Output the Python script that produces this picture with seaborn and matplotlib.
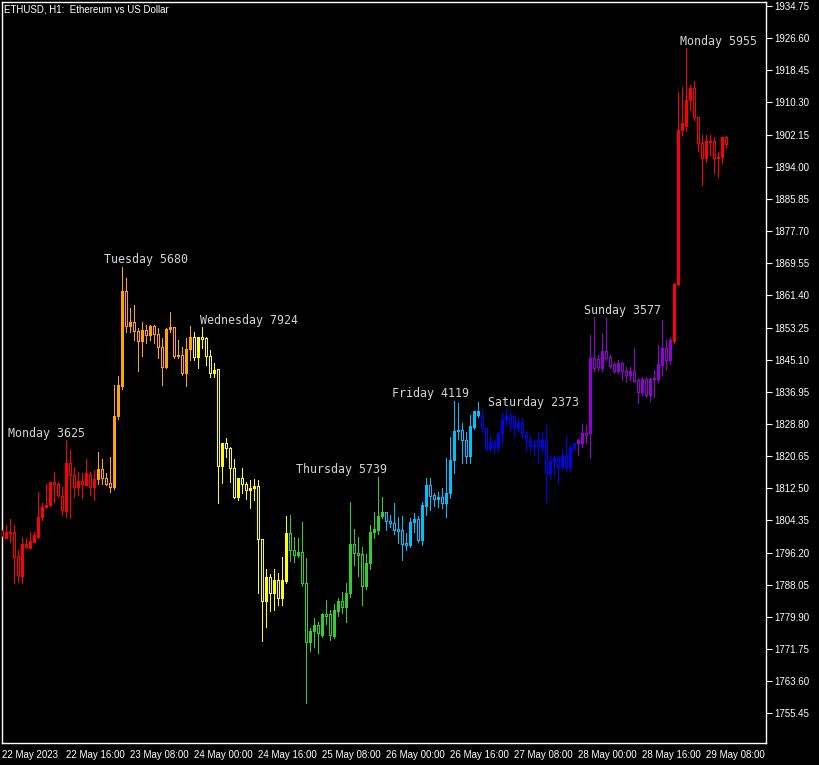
import matplotlib
matplotlib.use("Agg")
import matplotlib.pyplot as plt
import numpy as np
import seaborn as sns

# Hourly ETHUSD candles, 22 May 2023 00:00 onwards (one value per hour)
opens = [
    1801.8, 1799.8, 1801.3, 1801.3, 1795.3, 1790.3, 1798.4, 1797.3, 1799.0, 1800.2,
    1805.3, 1807.7, 1808.3, 1814.2, 1813.7, 1810.6, 1806.8, 1818.8, 1815.9, 1812.9,
    1814.4, 1813.3, 1816.1, 1812.7, 1814.9, 1817.4, 1815.0, 1813.9, 1812.7, 1830.7,
    1838.4, 1862.5, 1853.7, 1854.7, 1852.4, 1849.9, 1852.6, 1851.4, 1853.6, 1851.6,
    1848.4, 1843.3, 1852.9, 1853.3, 1846.2, 1846.2, 1841.6, 1847.9, 1850.8, 1845.7,
    1850.8, 1850.5, 1846.1, 1841.6, 1842.7, 1818.2, 1823.9, 1822.6, 1817.7, 1810.4,
    1815.0, 1813.5, 1812.1, 1812.5, 1813.1, 1799.6, 1783.8, 1790.1, 1785.9, 1789.2,
    1784.6, 1789.1, 1801.1, 1796.8, 1795.7, 1796.3, 1788.4, 1773.6, 1776.2, 1777.8,
    1775.3, 1780.6, 1780.6, 1775.1, 1781.5, 1783.9, 1782.5, 1786.0, 1798.4, 1796.2,
    1795.8, 1787.7, 1793.5, 1801.3, 1801.9, 1805.5, 1806.6, 1804.2, 1803.6, 1802.2,
    1801.9, 1798.5, 1798.1, 1804.0, 1804.7, 1799.4, 1808.1, 1813.3, 1810.8, 1809.8,
    1810.2, 1808.7, 1811.2, 1819.7, 1826.9, 1827.3, 1824.7, 1820.8, 1828.1, 1831.0,
    1830.8, 1827.7, 1822.6, 1824.3, 1823.0, 1826.4, 1829.8, 1830.6, 1830.8, 1828.1,
    1829.1, 1826.4, 1824.7, 1823.1, 1824.7, 1823.1, 1824.7, 1816.3, 1819.4, 1820.1,
    1817.8, 1820.7, 1818.0, 1822.6, 1823.9, 1823.9, 1826.4, 1826.4, 1845.4, 1845.3,
    1842.9, 1847.3, 1845.9, 1844.0, 1842.1, 1844.2, 1842.1, 1841.2, 1842.1, 1839.9,
    1837.0, 1840.1, 1836.1, 1840.1, 1840.1, 1843.8, 1848.0, 1845.0, 1849.9, 1864.4,
    1903.3, 1904.3, 1910.9, 1913.9, 1906.5, 1900.1, 1896.3, 1900.4, 1900.4, 1896.3,
    1896.4, 1901.5,
]
highs = [
    1803.5, 1803.2, 1804.7, 1803.2, 1796.8, 1800.2, 1799.8, 1801.3, 1801.5, 1811.6,
    1808.7, 1813.7, 1814.2, 1816.7, 1814.2, 1812.9, 1824.7, 1822.2, 1818.0, 1816.7,
    1816.3, 1819.8, 1816.7, 1817.1, 1821.8, 1819.8, 1816.3, 1820.3, 1838.7, 1841.0,
    1868.7, 1865.7, 1858.1, 1858.9, 1853.0, 1854.7, 1853.9, 1853.9, 1853.9, 1853.0,
    1850.5, 1853.0, 1857.3, 1853.5, 1850.1, 1848.4, 1850.5, 1853.6, 1852.2, 1850.9,
    1853.3, 1850.8, 1847.5, 1844.2, 1842.7, 1823.9, 1825.2, 1822.9, 1819.8, 1815.0,
    1817.6, 1814.2, 1814.6, 1814.8, 1814.6, 1799.6, 1792.0, 1790.8, 1792.0, 1790.9,
    1795.2, 1805.5, 1805.7, 1800.1, 1799.8, 1804.0, 1794.7, 1777.0, 1779.5, 1778.7,
    1781.0, 1784.2, 1781.6, 1783.2, 1784.8, 1786.3, 1788.4, 1809.1, 1802.3, 1800.1,
    1797.7, 1795.8, 1803.2, 1806.6, 1815.4, 1810.4, 1806.6, 1805.7, 1808.7, 1805.3,
    1805.5, 1801.1, 1804.9, 1806.2, 1805.5, 1809.1, 1815.0, 1815.0, 1811.2, 1811.5,
    1812.5, 1820.1, 1825.6, 1834.7, 1834.0, 1829.0, 1826.8, 1831.1, 1832.1, 1834.3,
    1832.5, 1827.7, 1826.0, 1824.7, 1826.6, 1831.9, 1832.5, 1831.9, 1831.1, 1830.2,
    1830.2, 1826.9, 1826.0, 1824.7, 1826.8, 1826.8, 1828.5, 1820.9, 1820.7, 1820.9,
    1822.2, 1825.8, 1823.5, 1824.1, 1825.0, 1828.9, 1828.5, 1851.4, 1855.8, 1846.3,
    1851.8, 1855.6, 1846.3, 1844.6, 1845.0, 1844.6, 1843.3, 1843.3, 1848.0, 1840.4,
    1840.8, 1840.8, 1840.4, 1842.5, 1848.8, 1855.2, 1850.1, 1850.9, 1864.5, 1913.0,
    1914.3, 1924.0, 1914.7, 1915.8, 1906.5, 1902.0, 1902.0, 1902.0, 1901.6, 1897.8,
    1901.6, 1901.8,
]
lows = [
    1799.5, 1799.8, 1799.0, 1788.4, 1788.8, 1788.4, 1797.3, 1797.3, 1799.0, 1799.8,
    1804.5, 1807.4, 1808.0, 1809.1, 1810.4, 1805.7, 1805.3, 1804.9, 1810.4, 1810.8,
    1810.0, 1813.3, 1810.8, 1809.5, 1813.7, 1813.7, 1813.3, 1811.6, 1812.2, 1830.0,
    1837.6, 1852.0, 1852.2, 1850.1, 1842.3, 1846.0, 1849.2, 1850.0, 1849.2, 1845.4,
    1838.7, 1843.0, 1852.0, 1845.5, 1845.5, 1841.2, 1838.3, 1845.0, 1845.0, 1842.9,
    1848.0, 1843.7, 1840.8, 1840.8, 1808.7, 1813.9, 1820.5, 1814.2, 1810.0, 1809.5,
    1811.2, 1809.8, 1807.4, 1809.5, 1785.9, 1773.9, 1777.4, 1781.5, 1781.6, 1782.9,
    1782.9, 1788.4, 1794.0, 1793.9, 1795.2, 1787.6, 1758.0, 1771.3, 1772.3, 1770.8,
    1774.9, 1778.0, 1774.0, 1774.5, 1780.0, 1781.0, 1778.7, 1785.0, 1793.0, 1790.3,
    1782.9, 1787.0, 1792.0, 1799.8, 1800.9, 1805.0, 1801.9, 1802.6, 1801.0, 1798.7,
    1794.3, 1796.9, 1797.5, 1801.5, 1799.0, 1798.0, 1805.7, 1807.0, 1808.0, 1807.7,
    1807.4, 1805.3, 1810.0, 1816.4, 1825.0, 1819.0, 1819.0, 1819.0, 1827.5, 1830.5,
    1827.0, 1822.0, 1822.0, 1821.4, 1822.0, 1824.1, 1828.5, 1826.9, 1825.6, 1826.9,
    1825.5, 1822.2, 1822.0, 1820.9, 1818.8, 1822.0, 1808.9, 1814.8, 1815.5, 1813.8,
    1817.5, 1817.0, 1817.0, 1822.0, 1821.0, 1823.0, 1824.0, 1820.1, 1842.1, 1842.5,
    1842.1, 1845.0, 1842.9, 1841.6, 1841.6, 1839.9, 1839.5, 1839.9, 1839.5, 1834.0,
    1836.1, 1835.7, 1834.5, 1835.7, 1839.5, 1841.2, 1842.5, 1844.0, 1849.3, 1864.0,
    1902.0, 1903.0, 1908.4, 1905.9, 1898.0, 1889.4, 1895.3, 1897.0, 1892.5, 1891.5,
    1895.0, 1898.7,
]
closes = [
    1800.4, 1801.5, 1801.1, 1795.1, 1790.5, 1798.4, 1797.5, 1799.2, 1800.7, 1805.3,
    1807.7, 1808.3, 1814.1, 1813.7, 1810.8, 1807.0, 1818.8, 1815.9, 1812.9, 1814.4,
    1813.6, 1816.3, 1812.9, 1814.9, 1817.4, 1815.0, 1813.7, 1812.7, 1830.9, 1838.7,
    1862.5, 1853.7, 1854.7, 1852.4, 1849.9, 1852.6, 1851.4, 1853.6, 1851.6, 1848.4,
    1843.3, 1852.9, 1853.5, 1846.0, 1846.0, 1841.6, 1847.9, 1850.8, 1845.7, 1850.8,
    1850.3, 1846.1, 1841.6, 1842.6, 1818.2, 1823.9, 1822.6, 1817.7, 1810.4, 1815.0,
    1813.5, 1812.1, 1812.5, 1813.1, 1799.6, 1783.8, 1790.1, 1785.9, 1789.2, 1784.6,
    1789.2, 1801.1, 1796.8, 1795.7, 1796.4, 1788.4, 1773.6, 1776.3, 1777.8, 1775.7,
    1780.6, 1780.2, 1775.3, 1781.6, 1783.9, 1782.5, 1786.0, 1798.4, 1796.0, 1795.6,
    1787.7, 1793.5, 1801.5, 1802.2, 1805.5, 1806.6, 1804.2, 1803.6, 1801.9, 1801.7,
    1798.3, 1798.1, 1804.0, 1804.7, 1799.4, 1808.3, 1813.3, 1810.6, 1809.9, 1810.2,
    1808.7, 1811.2, 1819.7, 1826.9, 1827.3, 1824.7, 1820.8, 1828.3, 1832.1, 1832.0,
    1827.7, 1822.6, 1824.3, 1823.0, 1826.4, 1829.8, 1830.8, 1829.0, 1828.1, 1829.4,
    1826.3, 1824.7, 1823.1, 1823.5, 1823.1, 1824.7, 1816.3, 1819.4, 1820.1, 1817.8,
    1820.7, 1818.0, 1822.6, 1823.9, 1824.7, 1826.4, 1826.0, 1845.4, 1842.9, 1843.2,
    1847.3, 1845.4, 1843.5, 1842.2, 1844.2, 1842.1, 1841.2, 1842.2, 1839.8, 1837.0,
    1840.2, 1836.1, 1840.1, 1840.4, 1844.0, 1848.0, 1845.0, 1850.1, 1864.4, 1903.3,
    1905.0, 1910.9, 1913.9, 1906.5, 1900.1, 1896.3, 1900.4, 1900.2, 1896.3, 1896.5,
    1901.5, 1899.8,
]

day_names = ["Monday", "Tuesday", "Wednesday", "Thursday", "Friday", "Saturday", "Sunday", "Monday"]
day_counts = [3625, 5680, 7924, 5739, 4119, 2373, 3577, 5955]
day_colors = ["#FF0000", "#FFA500", "#FFFF00", "#32CD32", "#00BFFF", "#0000FF", "#9400D3", "#FF0000"]

time_ticks = [0, 16, 32, 48, 64, 80, 96, 112, 128, 144, 160, 176]
time_labels = ["22 May 2023", "22 May 16:00", "23 May 08:00", "24 May 00:00",
               "24 May 16:00", "25 May 08:00", "26 May 00:00", "26 May 16:00",
               "27 May 08:00", "28 May 00:00", "28 May 16:00", "29 May 08:00"]
price_ticks = [1934.75, 1926.60, 1918.45, 1910.30, 1902.15, 1894.00, 1885.85, 1877.70,
               1869.55, 1861.40, 1853.25, 1845.10, 1836.95, 1828.80, 1820.65, 1812.50,
               1804.35, 1796.20, 1788.05, 1779.90, 1771.75, 1763.60, 1755.45]

sns.set_theme(style="dark", rc={
    "figure.facecolor": "black",
    "axes.facecolor": "black",
    "axes.edgecolor": "white",
    "text.color": "white",
    "xtick.color": "white",
    "ytick.color": "white",
})
plt.rcParams["font.family"] = ["Liberation Sans", "DejaVu Sans"]

W, H = 820, 765
fig = plt.figure(figsize=(W / 100, H / 100), dpi=100)
ax = fig.add_axes([2 / W, 22 / H, 764 / W, 741 / H])

hours = np.arange(len(opens))
o = np.array(opens)
c = np.array(closes)
colors = [day_colors[h // 24] for h in hours]
bull = c >= o
faces = [col if up else "black" for col, up in zip(colors, bull)]
px = 72 / 100

ax.vlines(hours, lows, highs, colors=colors, linewidth=px, antialiased=False, zorder=2)
ax.bar(hours, np.maximum(np.abs(c - o), 0.05), bottom=np.minimum(o, c), width=0.5,
       color=faces, edgecolor=colors, linewidth=px, antialiased=False, zorder=3)

for d, (name, count) in enumerate(zip(day_names, day_counts)):
    start = d * 24
    top = max(highs[start:start + 24])
    ax.annotate(f"{name} {count}", xy=(start + 1.5, top), xytext=(0, 5),
                textcoords="offset points", ha="left", va="center",
                family="DejaVu Sans Mono", fontsize=8.4, color="#D4D4D4", zorder=4)

ax.set_xlim(-0.075, 190.9)
ax.set_ylim(1747.93, 1935.76)
ax.grid(False)
for s in ax.spines.values():
    s.set_color("white")
    s.set_linewidth(1)

ax.yaxis.tick_right()
ax.set_yticks(price_ticks)
ax.set_yticklabels([f"{p:.2f}" for p in price_ticks])
ax.tick_params(axis="y", direction="out", length=4, width=0.8, pad=2, labelsize=7, colors="white")
ax.set_xticks(time_ticks)
ax.set_xticklabels(time_labels, ha="left")
ax.tick_params(axis="x", direction="out", length=4, width=0.8, pad=1, labelsize=7, colors="white")

fig.text(4 / W, 1 - 9 / H, "ETHUSD, H1:  Ethereum vs US Dollar", ha="left", va="center",
         fontsize=7, color="white")

fig.savefig("out.png", dpi=100, facecolor="black")
